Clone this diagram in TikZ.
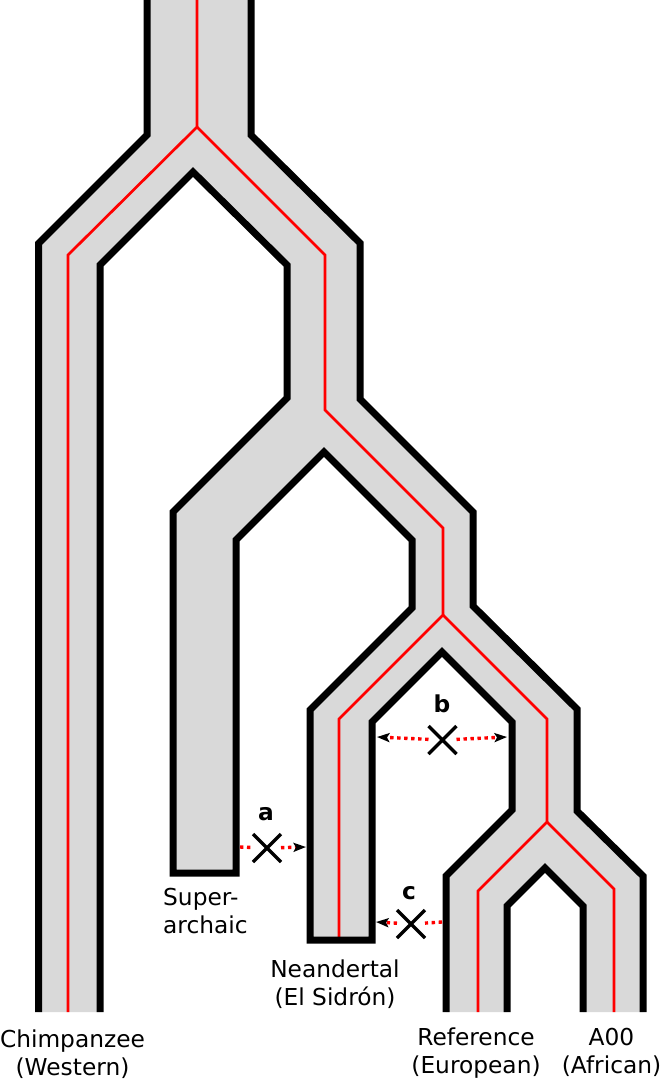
\documentclass[tikz,border=0pt]{standalone}
\usepackage{fontspec}
\setmainfont{DejaVu Sans}
\usepackage{tikz}
\usetikzlibrary{arrows.meta}
\usetikzlibrary{shapes.misc}
\definecolor{branchgray}{gray}{0.85}

\begin{document}
\begin{tikzpicture}[x=1pt, y=-1pt,
    outline/.style={black, line width=7pt},
    lineage/.style={red, line width=2.7pt},
    flowline/.style={red, line width=3.4pt, dash pattern=on 3.4pt off 3.6pt},
    flow/.style={flowline, -{Stealth[black, length=12.5pt, width=9pt, inset=2.5pt]}},
    blocked/.style={draw, cross out, line width=3.3pt, minimum size=28pt, inner sep=0pt, outer sep=0pt},
    taxon/.style={font=\fontsize{23.3}{28}\selectfont, align=center, anchor=north, inner sep=0pt},
    event/.style={font=\fontsize{23.3}{28}\selectfont\bfseries, anchor=base, inner sep=0pt}]
                \useasboundingbox (0,0) rectangle (661,1080);

                % Population tree (grey band)
                \fill[branchgray] (147,0) -- (147,135) -- (38.5,243.5) -- (38.5,1012) -- (100,1012) -- (100,265) -- (193,172) -- (287,265) -- (287,398) -- (173,512) -- (173,873) -- (236,873) -- (236,540) -- (324,452) -- (412,540) -- (412,608) -- (310,710) -- (310,940) -- (372,940) -- (372,722) -- (442,652) -- (512,722) -- (512,810) -- (446,876) -- (446,1012) -- (507,1012) -- (507,906) -- (545,868) -- (583,906) -- (583,1012) -- (643,1012) -- (643,876) -- (577,811) -- (577,709) -- (473,606) -- (473,512) -- (360,399) -- (360,243) -- (251,135) -- (251,0) -- cycle;

                % Y chromosome lineages
                \draw[lineage] (197,0) -- (197,127) -- (68,255) -- (68,1012);
                \draw[lineage] (197,127) -- (325,255) -- (325,410) -- (443,528) -- (443,615) -- (339,719) -- (339,940);
                \draw[lineage] (443,615) -- (547,719) -- (547,822) -- (478,891) -- (478,1012);
                \draw[lineage] (547,822) -- (614,889) -- (614,1012);

                % Outlines
                \draw[outline] (147,0) -- (147,135) -- (38.5,243.5) -- (38.5,1012);
                \draw[outline] (100,1012) -- (100,265) -- (193,172) -- (287,265) -- (287,398) -- (173,512) -- (173,873) -- (236,873) -- (236,540) -- (324,452) -- (412,540) -- (412,608) -- (310,710) -- (310,940) -- (372,940) -- (372,722) -- (442,652) -- (512,722) -- (512,810) -- (446,876) -- (446,1012);
                \draw[outline] (507,1012) -- (507,906) -- (545,868) -- (583,906) -- (583,1012);
                \draw[outline] (643,1012) -- (643,876) -- (577,811) -- (577,709) -- (473,606) -- (473,512) -- (360,399) -- (360,243) -- (251,135) -- (251,0);

                % Blocked gene flow
                \node[blocked] (xa) at (267,848) {};
                \node[blocked] (xb) at (442.5,740) {};
                \node[blocked] (xc) at (411,924) {};
                \coordinate (a0) at (240,847);
                \coordinate (a1) at (306,847);
                \coordinate (b0) at (377,737);
                \coordinate (b1) at (507,737);
                \coordinate (c0) at (442,922);
                \coordinate (c1) at (376,922);
                \draw[flowline] (a0) -- (xa);
                \draw[flow] (xa) -- (a1);
                \draw[flow] (xb) -- (b0);
                \draw[flow] (xb) -- (b1);
                \draw[flowline] (c0) -- (xc);
                \draw[flow] (xc) -- (c1);
                \node[event] (lbla) at (266,820) {a};
                \node[event] (lblb) at (442,712) {b};
                \node[event] (lblc) at (409,899) {c};

                % Labels
                \node[taxon] (chimp) at (72.5,1029.3) {Chimpanzee\\(Western)};
                \node[taxon, anchor=north west, align=left] (super) at (163,887.7) {Super-\\archaic};
                \node[taxon] (neand) at (335,959.3) {Neandertal\\(El Sidrón)};
                \node[taxon] (ref) at (476,1027.3) {Reference\\(European)};
                \node[taxon] (aoo) at (611.5,1027.7) {A00\\(African)};
            \end{tikzpicture}
\end{document}
